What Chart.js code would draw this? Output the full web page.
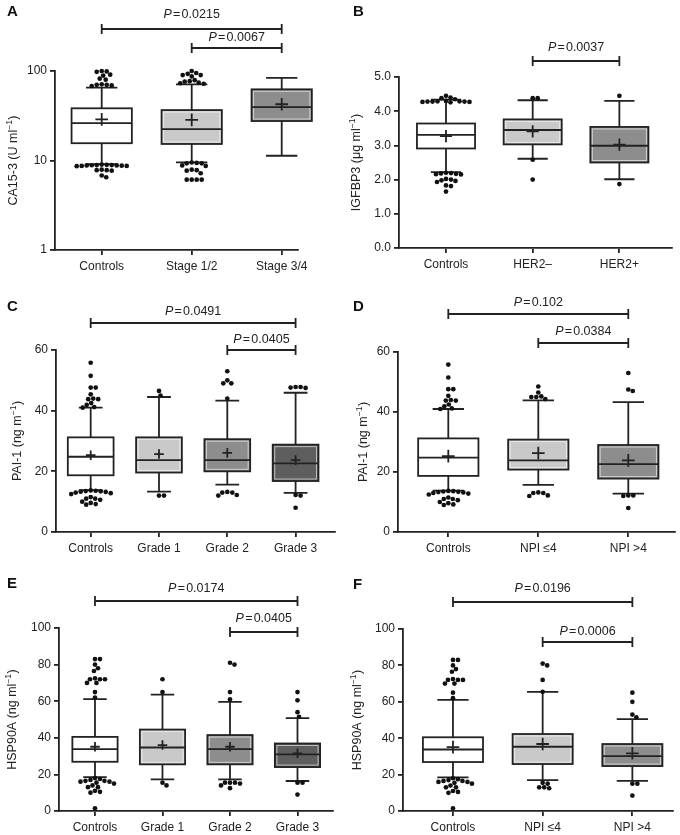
<!DOCTYPE html>
<html><head><meta charset="utf-8">
<script src="https://cdn.jsdelivr.net/npm/chart.js@4.4.1/dist/chart.umd.min.js"></script>
<style>
html,body{margin:0;padding:0;background:#fff;}
#wrap{position:relative;width:680px;height:835px;overflow:hidden;background:#fff;}
canvas{position:absolute;}
</style></head><body><div id="wrap"></div>
<script>
// ================= DATA =================
// Panel A: CA15-3 (log scale)
const catsA = ['Controls', 'Stage 1/2', 'Stage 3/4'];
const lowA  = [9.1, 9.55, 11.3];
const q1A   = [15.6, 15.3, 27.6];
const medA  = [26.1, 22.4, 39.5];
const q3A   = [38.3, 36.6, 62.4];
const highA = [65.1, 71, 84];
const meanA = [28.8, 28.4, 42.5];
const outA  = [
  [100, 99, 98, 91, 89, 82, 80, 71, 70, 70, 69, 68,
   9.0, 8.95, 8.9, 8.9, 8.85, 8.8, 8.8, 8.75, 8.7, 8.7, 8.65, 7.9, 7.8, 7.8, 7.7, 6.8, 6.5],
  [100, 95, 93, 90, 90, 87, 79, 77, 76, 74, 73, 72,
   9.5, 9.4, 9.3, 9.3, 8.8, 8.7, 7.9, 7.8, 7.7, 7.2, 6.1, 6.1, 6.1, 6.1],
  []
];
const yTicksA = [1, 10, 100];
const pA = [[0, 2, '0.0215'], [1, 2, '0.0067']];

// Panel B: IGFBP3
const catsB = ['Controls', 'HER2\u2013', 'HER2+'];
const lowB  = [2.22, 2.61, 2.01];
const q1B   = [2.91, 3.03, 2.50];
const medB  = [3.31, 3.45, 2.99];
const q3B   = [3.64, 3.76, 3.54];
const highB = [4.34, 4.32, 4.30];
const meanB = [3.27, 3.41, 3.02];
const outB  = [
  [4.45, 4.40, 4.38, 4.35, 4.30, 4.29, 4.29, 4.28, 4.28, 4.28, 4.27, 4.27, 4.26,
   2.20, 2.19, 2.18, 2.17, 2.16, 2.15, 2.02, 2.00, 1.98, 1.96, 1.93, 1.83, 1.81, 1.65],
  [4.38, 4.38, 2.58, 2.0],
  [4.45, 1.87]
];
const yTicksB = [0, 1, 2, 3, 4, 5];
const pB = [[1, 2, '0.0037']];

// Panel C: PAI-1 by grade
const catsC = ['Controls', 'Grade 1', 'Grade 2', 'Grade 3'];
const lowC  = [13.8, 13.3, 15.6, 12.9];
const q1C   = [18.7, 19.6, 20.0, 16.8];
const medC  = [24.8, 23.7, 23.7, 22.6];
const q3C   = [31.2, 31.2, 30.6, 28.8];
const highC = [41.0, 44.5, 43.3, 45.9];
const meanC = [25.3, 25.7, 26.1, 23.7];
const outC  = [
  [55.8, 51.5, 47.6, 47.6, 45.4, 44, 43.8, 43.8, 42.5, 41.9, 41.2, 41.0,
   13.7, 13.6, 13.5, 13.4, 13.3, 13.2, 13.0, 12.8, 12.5, 11.5, 11.0, 11.0, 10.6, 10.0, 9.6, 9.2, 9.0],
  [46.5, 45, 12, 12],
  [53, 50, 49, 49, 44, 13.2, 13, 13, 12.2, 12],
  [47.8, 47.6, 47.5, 47.8, 12.2, 12, 8]
];
const yTicksC = [0, 20, 40, 60];
const pC = [[0, 3, '0.0491'], [2, 3, '0.0405']];

// Panel D: PAI-1 by NPI
const catsD = ['Controls', 'NPI \u22644', 'NPI >4'];
const lowD  = [13.8, 15.7, 12.8];
const q1D   = [18.7, 20.8, 17.8];
const medD  = [24.8, 23.9, 22.6];
const q3D   = [31.2, 30.8, 29.0];
const highD = [41.0, 43.9, 43.3];
const meanD = [25.3, 26.3, 23.9];
const outD  = [
  [55.8, 51.5, 47.6, 47.6, 45.4, 44, 43.8, 43.8, 42.5, 41.9, 41.2, 41.0,
   13.7, 13.6, 13.5, 13.4, 13.3, 13.2, 13.0, 12.8, 12.5, 11.5, 11.0, 11.0, 10.6, 10.0, 9.6, 9.2, 9.0],
  [48.5, 46.5, 45.2, 45, 45, 44.3, 13.2, 13, 13, 12.2, 12],
  [53, 47.5, 47, 12.2, 12, 12.2, 8]
];
const yTicksD = [0, 20, 40, 60];
const pD = [[0, 2, '0.102'], [1, 2, '0.0384']];

// Panel E: HSP90A by grade
const catsE = ['Controls', 'Grade 1', 'Grade 2', 'Grade 3'];
const lowE  = [18.5, 17.3, 17.3, 16.4];
const q1E   = [26.9, 25.5, 25.5, 24.0];
const medE  = [33.8, 34.7, 33.8, 30.9];
const q3E   = [40.5, 44.5, 41.5, 36.9];
const highE = [61.1, 63.6, 59.6, 50.7];
const meanE = [35.1, 36.0, 35.1, 31.5];
const outE  = [
  [83, 83, 80, 78, 76.5, 72, 72, 72.5, 72, 70, 70, 65, 62,
   18, 17.5, 17, 16.5, 16.5, 16, 16, 15.5, 15, 14, 13, 13, 11, 10.5, 10, 1.5],
  [72, 65, 15.5, 14],
  [81, 80, 65, 61, 15.5, 15.5, 15.5, 15, 14, 12.5],
  [65, 60.5, 54, 51.5, 15.5, 15.5, 9]
];
const yTicksE = [0, 20, 40, 60, 80, 100];
const pE = [[0, 3, '0.0174'], [2, 3, '0.0405']];

// Panel F: HSP90A by NPI
const catsF = ['Controls', 'NPI \u22644', 'NPI >4'];
const lowF  = [18.5, 17.0, 16.5];
const q1F   = [26.9, 25.8, 24.7];
const medF  = [33.8, 35.3, 30.2];
const q3F   = [40.5, 42.3, 36.8];
const highF = [61.1, 65.4, 50.5];
const meanF = [35.1, 36.8, 31.7];
const outF  = [
  [83, 83, 80, 78, 76.5, 72, 72, 72.5, 72, 70, 70, 65, 62,
   18, 17.5, 17, 16.5, 16.5, 16, 16, 15.5, 15, 14, 13, 13, 11, 10.5, 10, 1.5],
  [81, 80, 72, 65.5, 15.5, 15, 13, 13, 12.5],
  [65, 60, 53, 51.5, 15, 15, 8.5]
];
const yTicksF = [0, 20, 40, 60, 80, 100];
const pF = [[0, 2, '0.0196'], [1, 2, '0.0006']];

// ================= LAYOUT / STYLE =================
const FONT = '"Liberation Sans", Arial, Helvetica, sans-serif';
const INK = '#222';
const WHITE = '#ffffff', LIGHT = '#c9c9c9', MID = '#8d8d8d', DARK = '#5e5e5e';

const panels = [
  { letter: 'A', title: ['CA15-3 (U ml', '\u22121', ')'], log: true, fmt: v => String(v),
    cats: catsA, low: lowA, q1: q1A, med: medA, q3: q3A, high: highA, mean: meanA, out: outA, yTicks: yTicksA, p: pA,
    L: { left: 0, top: 0, w: 340, h: 278, axisX: 55, plotTop: 71, axisY: 250, axisEnd: 298, xMin: 0.481, xMax: 3.181,
         titleX: 14, letterX: 7, letterY: 16, lineY: [29, 48], textY: [15, 38], fills: [WHITE, LIGHT, MID] } },
  { letter: 'B', title: ['IGFBP3 (\u03bcg ml', '\u22121', ')'], log: false, fmt: v => v.toFixed(1),
    cats: catsB, low: lowB, q1: q1B, med: medB, q3: q3B, high: highB, mean: meanB, out: outB, yTicks: yTicksB, p: pB,
    L: { left: 340, top: 0, w: 340, h: 278, axisX: 399, plotTop: 77, axisY: 248, axisEnd: 672, xMin: 0.458, xMax: 3.607,
         titleX: 357, letterX: 353, letterY: 16, lineY: [61], textY: [48], fills: [WHITE, LIGHT, MID] } },
  { letter: 'C', title: ['PAI-1 (ng m', '\u22121', ')'], log: false, fmt: v => String(v),
    cats: catsC, low: lowC, q1: q1C, med: medC, q3: q3C, high: highC, mean: meanC, out: outC, yTicks: yTicksC, p: pC,
    L: { left: 0, top: 278, w: 340, h: 278, axisX: 56, plotTop: 350, axisY: 532, axisEnd: 335, xMin: 0.492, xMax: 4.577,
         titleX: 18, letterX: 7, letterY: 311, lineY: [323, 350], textY: [312, 340], fills: [WHITE, LIGHT, MID, DARK] } },
  { letter: 'D', title: ['PAI-1 (ng m', '\u22121', ')'], log: false, fmt: v => String(v),
    cats: catsD, low: lowD, q1: q1D, med: medD, q3: q3D, high: highD, mean: meanD, out: outD, yTicks: yTicksD, p: pD,
    L: { left: 340, top: 278, w: 340, h: 278, axisX: 398, plotTop: 352, axisY: 532, axisEnd: 675, xMin: 0.441, xMax: 3.519,
         titleX: 364, letterX: 353, letterY: 311, lineY: [314, 343], textY: [303, 332], fills: [WHITE, LIGHT, MID] } },
  { letter: 'E', title: ['HSP90A (ng ml', '\u22121', ')'], log: false, fmt: v => String(v),
    cats: catsE, low: lowE, q1: q1E, med: medE, q3: q3E, high: highE, mean: meanE, out: outE, yTicks: yTicksE, p: pE,
    L: { left: 0, top: 556, w: 340, h: 279, axisX: 59, plotTop: 628, axisY: 811, axisEnd: 333, xMin: 0.467, xMax: 4.526,
         titleX: 13, letterX: 7, letterY: 588, lineY: [601, 632], textY: [589, 619], fills: [WHITE, LIGHT, MID, DARK] } },
  { letter: 'F', title: ['HSP90A (ng ml', '\u22121', ')'], log: false, fmt: v => String(v),
    cats: catsF, low: lowF, q1: q1F, med: medF, q3: q3F, high: highF, mean: meanF, out: outF, yTicks: yTicksF, p: pF,
    L: { left: 340, top: 556, w: 340, h: 279, axisX: 403, plotTop: 629, axisY: 811, axisEnd: 673, xMin: 0.443, xMax: 3.453,
         titleX: 358, letterX: 353, letterY: 589, lineY: [602, 642], textY: [589, 632], fills: [WHITE, LIGHT, MID] } }
];

const wrap = document.getElementById('wrap');

function makePlugin(P) {
  const L = P.L;
  return {
    id: 'boxplot' + P.letter,
    afterDatasetsUpdate(chart) {
      // beeswarm: spread coincident outliers sideways so they don't overlap
      const meta = chart.getDatasetMeta(0);
      const raw = chart.data.datasets[0].data;
      const groups = {};
      meta.data.forEach((el, i) => { (groups[raw[i].x] = groups[raw[i].x] || []).push(el); });
      const d = 4.7;
      Object.keys(groups).forEach(k => {
        const els = groups[k].slice().sort((a, b) => a.y - b.y);
        const placed = [];
        els.forEach(el => {
          const cx = el.x;
          let best = 0;
          for (let s = 0; s < 300; s++) {
            const cands = s === 0 ? [0] : [s * 0.5, -s * 0.5];
            let ok = null;
            for (const o of cands) {
              if (placed.every(p => Math.hypot(p.x - (cx + o), p.y - el.y) >= d)) { ok = o; break; }
            }
            if (ok !== null) { best = ok; break; }
          }
          el.x = cx + best;
          placed.push({ x: el.x, y: el.y });
        });
      });
    },
    beforeDatasetsDraw(chart) {
      const ctx = chart.ctx, xs = chart.scales.x, ys = chart.scales.y;
      const unit = xs.getPixelForValue(2) - xs.getPixelForValue(1);
      const bw = 0.67 * unit, cap = 0.52 * bw, plus = 0.105 * bw;
      ctx.save();
      ctx.strokeStyle = INK; ctx.lineWidth = 1.8; ctx.lineCap = 'butt';
      P.cats.forEach((c, i) => {
        const xc = xs.getPixelForValue(i + 1);
        const yLo = ys.getPixelForValue(P.low[i]), yHi = ys.getPixelForValue(P.high[i]);
        const y1 = ys.getPixelForValue(P.q1[i]), y3 = ys.getPixelForValue(P.q3[i]);
        const ym = ys.getPixelForValue(P.med[i]), ya = ys.getPixelForValue(P.mean[i]);
        // whiskers
        ctx.beginPath();
        ctx.moveTo(xc, yHi); ctx.lineTo(xc, y3);
        ctx.moveTo(xc, y1); ctx.lineTo(xc, yLo);
        ctx.moveTo(xc - cap / 2, yHi); ctx.lineTo(xc + cap / 2, yHi);
        ctx.moveTo(xc - cap / 2, yLo); ctx.lineTo(xc + cap / 2, yLo);
        ctx.stroke();
        // box
        const fill = L.fills[i];
        ctx.fillStyle = fill;
        ctx.fillRect(xc - bw / 2, y3, bw, y1 - y3);
        if (fill !== WHITE) {
          ctx.save();
          ctx.strokeStyle = 'rgba(255,255,255,0.6)'; ctx.lineWidth = 1;
          ctx.strokeRect(xc - bw / 2 + 2, y3 + 2, bw - 4, y1 - y3 - 4);
          ctx.restore();
        }
        ctx.strokeRect(xc - bw / 2, y3, bw, y1 - y3);
        // median
        ctx.beginPath(); ctx.moveTo(xc - bw / 2, ym); ctx.lineTo(xc + bw / 2, ym); ctx.stroke();
        // mean +
        ctx.beginPath();
        ctx.moveTo(xc - plus, ya); ctx.lineTo(xc + plus, ya);
        ctx.moveTo(xc, ya - plus); ctx.lineTo(xc, ya + plus);
        ctx.stroke();
      });
      ctx.restore();
    },
    afterDraw(chart) {
      const ctx = chart.ctx, xs = chart.scales.x, ca = chart.chartArea;
      ctx.save();
      // panel letter
      ctx.fillStyle = '#111';
      ctx.font = 'bold 15px ' + FONT;
      ctx.textBaseline = 'alphabetic'; ctx.textAlign = 'left';
      ctx.fillText(P.letter, L.letterX - L.left, L.letterY - L.top);
      // y-axis title (rotated, with superscript)
      ctx.save();
      ctx.translate(L.titleX - L.left, (ca.top + ca.bottom) / 2);
      ctx.rotate(-Math.PI / 2);
      const mainF = '12.5px ' + FONT, supF = '8.5px ' + FONT;
      ctx.font = mainF; const w0 = ctx.measureText(P.title[0]).width, w2 = ctx.measureText(P.title[2]).width;
      ctx.font = supF; const w1 = ctx.measureText(P.title[1]).width;
      let x = -(w0 + w1 + w2 + 0.5) / 2;
      ctx.fillStyle = INK; ctx.textBaseline = 'middle'; ctx.textAlign = 'left';
      ctx.font = mainF; ctx.fillText(P.title[0], x, 0); x += w0;
      ctx.font = supF; ctx.fillText(P.title[1], x, -4); x += w1 + 0.5;
      ctx.font = mainF; ctx.fillText(P.title[2], x, 0);
      ctx.restore();
      // significance brackets
      ctx.strokeStyle = INK; ctx.lineWidth = 1.8; ctx.fillStyle = INK;
      P.p.forEach((b, k) => {
        const xa = xs.getPixelForValue(b[0] + 1), xb = xs.getPixelForValue(b[1] + 1);
        const ly = L.lineY[k] - L.top, ty = L.textY[k] - L.top;
        ctx.beginPath();
        ctx.moveTo(xa, ly); ctx.lineTo(xb, ly);
        ctx.moveTo(xa, ly - 5); ctx.lineTo(xa, ly + 5);
        ctx.moveTo(xb, ly - 5); ctx.lineTo(xb, ly + 5);
        ctx.stroke();
        const fI = 'italic 12.5px ' + FONT, fN = '12.5px ' + FONT;
        ctx.font = fI; const wp = ctx.measureText('P').width;
        ctx.font = fN; const we = ctx.measureText('=').width, wv = ctx.measureText(b[2]).width;
        const gap = 1.2;
        let tx = (xa + xb) / 2 - (wp + we + wv + 2 * gap) / 2;
        ctx.textBaseline = 'middle'; ctx.textAlign = 'left';
        ctx.font = fI; ctx.fillText('P', tx, ty); tx += wp + gap;
        ctx.font = fN; ctx.fillText('=', tx, ty); tx += we + gap;
        ctx.fillText(b[2], tx, ty);
      });
      ctx.restore();
    }
  };
}

panels.forEach(P => {
  const L = P.L;
  const c = document.createElement('canvas');
  c.width = L.w; c.height = L.h;
  c.style.left = L.left + 'px'; c.style.top = L.top + 'px';
  c.style.width = L.w + 'px'; c.style.height = L.h + 'px';
  wrap.appendChild(c);
  const pts = [];
  P.out.forEach((arr, g) => arr.forEach(v => pts.push({ x: g + 1, y: v })));
  const yt = P.yTicks;
  new Chart(c, {
    type: 'scatter',
    data: { datasets: [{ data: pts, pointRadius: 2.35, pointHoverRadius: 2.35,
      pointBackgroundColor: '#111', pointBorderWidth: 0, clip: false }] },
    options: {
      responsive: false, animation: false, events: [],
      layout: { padding: { left: 0, top: L.plotTop - L.top, right: L.left + L.w - L.axisEnd, bottom: 0 } },
      plugins: { legend: { display: false }, tooltip: { enabled: false } },
      scales: {
        x: {
          type: 'linear', min: L.xMin, max: L.xMax,
          afterBuildTicks: s => { s.ticks = P.cats.map((c, i) => ({ value: i + 1 })); },
          afterFit: s => { s.height = L.top + L.h - L.axisY; s.paddingLeft = 0; s.paddingRight = 0; },
          ticks: { callback: v => P.cats[Math.round(v) - 1], font: { family: FONT, size: 12 }, color: INK,
                   padding: 4, maxRotation: 0, minRotation: 0, autoSkip: false },
          grid: { display: true, drawOnChartArea: false, drawTicks: true, tickLength: 5, color: INK, lineWidth: 1.8 },
          border: { display: true, color: INK, width: 1.8 }
        },
        y: {
          type: P.log ? 'logarithmic' : 'linear', min: yt[0], max: yt[yt.length - 1],
          afterBuildTicks: s => { s.ticks = yt.map(v => ({ value: v })); },
          afterFit: s => { s.width = L.axisX - L.left; s.paddingTop = 0; s.paddingBottom = 0; },
          ticks: { callback: v => P.fmt(v), font: { family: FONT, size: 12 }, color: INK, padding: 3, autoSkip: false },
          grid: { display: true, drawOnChartArea: false, drawTicks: true, tickLength: 5, color: INK, lineWidth: 1.8 },
          border: { display: true, color: INK, width: 1.8 }
        }
      }
    },
    plugins: [makePlugin(P)]
  });
});
</script>
</body></html>
